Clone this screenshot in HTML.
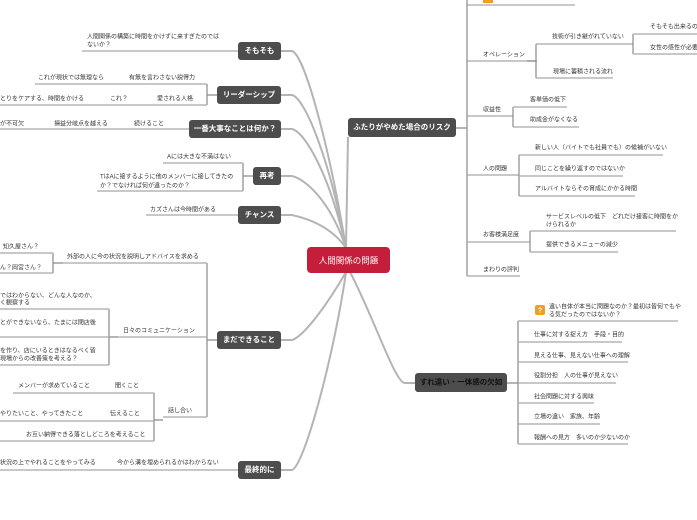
<!DOCTYPE html>
<html><head><meta charset="utf-8"><style>
html,body{margin:0;padding:0;background:#fff;}
svg{display:block;font-family:"Liberation Sans","Noto Sans CJK JP",sans-serif;}
.t{font-size:6px;fill:#333;dominant-baseline:middle;}
.u{stroke:#a8a8a8;stroke-width:1.2;fill:none;}
.b{stroke:#8a8a8a;stroke-width:1.2;fill:none;}
.c{stroke:#b4b4b4;stroke-width:2;fill:none;}
.n{fill:#4d4d4d;}
.nt{font-size:7.5px;fill:#fff;font-weight:bold;text-anchor:middle;dominant-baseline:middle;}
</style></head><body>
<svg width="697" height="520" viewBox="0 0 697 520" xmlns="http://www.w3.org/2000/svg">
<!-- main connectors -->
<path class="c" d="M346 248 C330 150,305 55,292 51 L281 51"/>
<path class="c" d="M346 248 C330 160,305 98,292 95 L281 95"/>
<path class="c" d="M346 248 C330 175,305 132,292 129 L281 129"/>
<path class="c" d="M346 248 C330 200,305 179,292 176 L281 176"/>
<path class="c" d="M346 248 C330 225,305 218,292 215 L281 215"/>
<path class="c" d="M346 272 C330 300,305 336,292 340 L281 340"/>
<path class="c" d="M346 272 C335 350,305 465,292 470 L281 470"/>
<path class="c" d="M346 248 L348 137"/>
<path class="c" d="M350 272 C375 320,395 383,405 383 L415 383"/>

<!-- center -->
<rect x="307" y="247" width="83" height="26" rx="4" fill="#c41e3a"/>
<text x="348.5" y="261" class="nt" style="font-size:8.5px;font-weight:normal">人間関係の問題</text>

<!-- left nodes -->
<rect class="n" x="238" y="42" width="43" height="18" rx="3"/><text class="nt" x="259.5" y="51">そもそも</text>
<rect class="n" x="217" y="86" width="64" height="18" rx="3"/><text class="nt" x="249" y="95">リーダーシップ</text>
<rect class="n" x="189" y="120" width="92" height="18" rx="3"/><text class="nt" x="235" y="129">一番大事なことは何か？</text>
<rect class="n" x="253" y="167" width="28" height="18" rx="3"/><text class="nt" x="267" y="176">再考</text>
<rect class="n" x="238" y="206" width="43" height="18" rx="3"/><text class="nt" x="259.5" y="215">チャンス</text>
<rect class="n" x="217" y="331" width="64" height="18" rx="3"/><text class="nt" x="249" y="340">まだできること</text>
<rect class="n" x="238" y="461" width="43" height="18" rx="3"/><text class="nt" x="259.5" y="470">最終的に</text>

<!-- そもそも -->
<text class="t" x="87" y="37">人間関係の構築に時間をかけずに来すぎたのでは</text>
<text class="t" x="87" y="45">ないか？</text>
<path class="u" d="M82 51 H238"/>

<!-- リーダーシップ -->
<path class="b" d="M217 95 H207 M207 84 V105"/>
<text class="t" x="129" y="78">有無を言わさない説得力</text>
<path class="u" d="M35 84 H207"/>
<text class="t" x="38" y="78">これが現状では無理なら</text>
<text class="t" x="157" y="99">愛される人格</text>
<text class="t" x="110" y="99">これ？</text>
<text class="t" x="0" y="99">とりをケアする、時間をかける</text>
<path class="u" d="M0 105 H207"/>

<!-- 一番大事 -->
<text class="t" x="134" y="124">続けること</text>
<text class="t" x="54" y="124">損益分岐点を越える</text>
<text class="t" x="0" y="124">が不可欠</text>
<path class="u" d="M0 129 H189"/>

<!-- 再考 -->
<path class="b" d="M253 176 H243 M243 163 V191"/>
<text class="t" x="167" y="157">Aには大きな不満はない</text>
<path class="u" d="M163 163 H243"/>
<text class="t" x="100" y="177">TはAに接するように他のメンバーに接してきたの</text>
<text class="t" x="100" y="186">か？でなければ何が違ったのか？</text>
<path class="u" d="M97 191 H243"/>

<!-- チャンス -->
<text class="t" x="150" y="210">カズさんは今時間がある</text>
<path class="u" d="M146 215 H238"/>

<!-- まだできること -->
<path class="b" d="M217 340 H207 M207 263 V417"/>
<text class="t" x="67" y="257">外部の人に今の状況を説明しアドバイスを求める</text>
<path class="u" d="M63 263 H207"/>
<path class="b" d="M63 263 H53 M53 253 V273"/>
<text class="t" x="3" y="247">知久屋さん？</text>
<path class="u" d="M0 253 H53"/>
<text class="t" x="0" y="268">ん？岡宮さん？</text>
<path class="u" d="M0 273 H53"/>
<text class="t" x="123" y="331">日々のコミュニケーション</text>
<path class="u" d="M118 337 H207"/>
<path class="b" d="M118 337 H109 M109 309 V365"/>
<text class="t" x="0" y="296">ではわからない、どんな人なのか、</text>
<text class="t" x="0" y="303">く観察する</text>
<path class="u" d="M0 309 H109"/>
<text class="t" x="0" y="323">とができないなら、たまには閉店後</text>
<path class="u" d="M0 337 H109"/>
<text class="t" x="0" y="351">を作り、店にいるときはなるべく皆</text>
<text class="t" x="0" y="359">現場からの改善策を考える？</text>
<path class="u" d="M0 365 H109"/>
<text class="t" x="168" y="411">話し合い</text>
<path class="u" d="M163 417 H207"/>
<path class="b" d="M163 420 H154 M154 393 V441"/>
<text class="t" x="115" y="386">聞くこと</text>
<path class="u" d="M13 393 H154"/>
<text class="t" x="18" y="386">メンバーが求めていること</text>
<text class="t" x="110" y="414">伝えること</text>
<text class="t" x="0" y="414">やりたいこと、やってきたこと</text>
<path class="u" d="M0 421 H154"/>
<text class="t" x="26" y="435">お互い納得できる落としどころを考えること</text>
<path class="u" d="M0 441 H154"/>

<!-- 最終的に -->
<text class="t" x="117" y="463">今から溝を埋められるかはわからない</text>
<text class="t" x="0" y="463">状況の上でやれることをやってみる</text>
<path class="u" d="M0 470 H238"/>

<!-- right: ふたり -->
<rect class="n" x="348" y="118" width="108" height="19" rx="3"/><text class="nt" x="402" y="127.5">ふたりがやめた場合のリスク</text>
<path class="b" d="M456 128 H467 M467 0 V276"/>
<rect x="483" y="0" width="10" height="3" fill="#f0a020"/>
<path class="u" d="M467 5 H575"/>
<text class="t" x="483" y="55">オペレーション</text>
<path class="u" d="M467 61 H537"/>
<path class="b" d="M527 61 H536 M536 44 V78"/>
<text class="t" x="552" y="37">技術が引き継がれていない</text>
<path class="u" d="M536 44 H633"/>
<path class="b" d="M633 34 V54"/>
<text class="t" x="650" y="27">そもそも出来るのか</text>
<path class="u" d="M633 34 H697"/>
<text class="t" x="650" y="48">女性の感性が必要</text>
<path class="u" d="M633 54 H697"/>
<text class="t" x="553" y="72">現場に蓄積される流れ</text>
<path class="u" d="M536 78 H613"/>
<text class="t" x="483" y="110">収益性</text>
<path class="u" d="M467 116 H513"/>
<path class="b" d="M513 107 V127"/>
<text class="t" x="530" y="100">客単価の低下</text>
<path class="u" d="M513 107 H567"/>
<text class="t" x="530" y="120">助成金がなくなる</text>
<path class="u" d="M513 127 H579"/>
<text class="t" x="483" y="169">人の問題</text>
<path class="u" d="M467 175 H519"/>
<path class="b" d="M519 155 V196"/>
<text class="t" x="535" y="148">新しい人（バイトでも社員でも）の候補がいない</text>
<path class="u" d="M519 155 H663"/>
<text class="t" x="535" y="169">同じことを繰り返すのではないか</text>
<path class="u" d="M519 176 H623"/>
<text class="t" x="535" y="189">アルバイトならその育成にかかる時間</text>
<path class="u" d="M519 196 H635"/>
<text class="t" x="483" y="235">お客様満足度</text>
<path class="u" d="M467 242 H530"/>
<path class="b" d="M530 231 V252"/>
<text class="t" x="546" y="217">サービスレベルの低下　どれだけ接客に時間をか</text>
<text class="t" x="546" y="225">けられるか</text>
<path class="u" d="M530 231 H676"/>
<text class="t" x="546" y="245">提供できるメニューの減少</text>
<path class="u" d="M530 252 H618"/>
<text class="t" x="483" y="270">まわりの評判</text>
<path class="u" d="M467 276 H520"/>

<!-- right: すれ違い -->
<rect class="n" x="415" y="373" width="92" height="19" rx="3"/><text class="nt" x="461" y="382.5" style="fill:#111">すれ違い・一体感の欠如</text>
<path class="b" d="M507 383 H518 M518 321 V444"/>
<rect x="535" y="305" width="10" height="10" rx="2" fill="#f0a020"/>
<text x="540" y="310.5" style="font-size:7px;fill:#fff;text-anchor:middle;dominant-baseline:middle;font-weight:bold">?</text>
<text class="t" x="549" y="307">違い自体が本当に問題なのか？最初は皆何でもや</text>
<text class="t" x="549" y="315">る気だったのではないか？</text>
<path class="u" d="M518 321 H678"/>
<text class="t" x="534" y="335">仕事に対する捉え方　手段・目的</text>
<path class="u" d="M518 342 H622"/>
<text class="t" x="534" y="356">見える仕事、見えない仕事への理解</text>
<path class="u" d="M518 362 H628"/>
<text class="t" x="534" y="376">役割分担　人の仕事が見えない</text>
<path class="u" d="M518 383 H616"/>
<text class="t" x="534" y="397">社会問題に対する興味</text>
<path class="u" d="M518 403 H594"/>
<text class="t" x="534" y="417">立場の違い　家族、年齢</text>
<path class="u" d="M518 424 H600"/>
<text class="t" x="534" y="438">報酬への見方　多いのか少ないのか</text>
<path class="u" d="M518 444 H628"/>
</svg>
</body></html>
